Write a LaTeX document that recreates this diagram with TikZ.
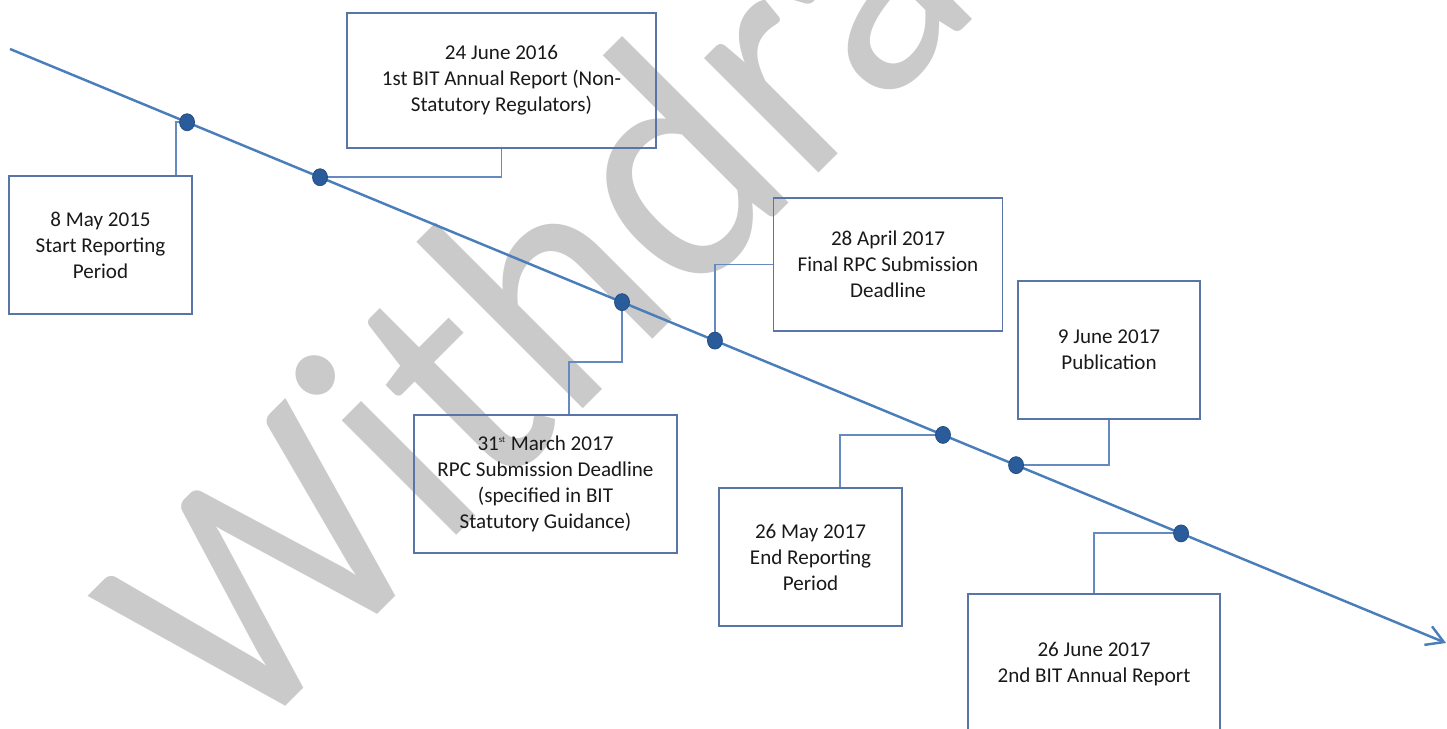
\documentclass[tikz,border=0pt]{standalone}
\usepackage{fontspec}
\setmainfont{Carlito}
\usetikzlibrary{arrows.meta,positioning,calc}

\definecolor{lineblue}{RGB}{74,126,187}
\definecolor{connblue}{RGB}{100,138,192}
\definecolor{boxblue}{RGB}{88,117,165}
\definecolor{dotblue}{RGB}{42,92,155}
\definecolor{wmgray}{RGB}{202,202,202}

\begin{document}
\begin{tikzpicture}[x=0.02cm, y=-0.02cm,
  event/.style={draw=boxblue, line width=1.1pt, align=center, inner sep=0pt,
    font=\fontsize{12}{14.8}\selectfont, text=black!90, minimum height=2.76cm},
  tline/.style={draw=lineblue, line width=1.4pt,
    -{Straight Barb[length=9.6pt,width=11.4pt]}},
  conn/.style={draw=connblue, line width=1.1pt},
  dot/.style={fill=dotblue, draw=dotblue!80!black, line width=0.4pt},
  watermark/.style={text=wmgray, rotate=45, xscale=0.94, anchor=base west,
    inner sep=0pt, font=\fontsize{193}{193}\selectfont}
]
  \useasboundingbox (0,0) rectangle (1447,729);
  \clip (0,0) rectangle (1447,729);

  \node[watermark] (wm) at (240,752) {Withdrawn};

  % timeline and event points
  \coordinate (ts) at (10,49);
  \coordinate (te) at (1446,643);
  \draw[tline] (ts) -- (te);
  \foreach \n/\t in {1/0.1233, 2/0.2159, 3/0.4262, 4/0.4909, 5/0.6497,
                     6/0.7006, 7/0.8155}
    \coordinate (e\n) at ($(ts)!\t!(te)$);

  \node[event, minimum width=3.66cm] (start) at (100.5,245)
    {8 May 2015\\Start Reporting\\Period};
  \node[event, minimum width=6.18cm, minimum height=2.70cm] (bit1) at (501.5,80.5)
    {24 June 2016\\1st BIT Annual Report (Non-\\Statutory Regulators)};
  \node[event, minimum width=5.26cm] (rpc) at (545.5,484)
    {31\textsuperscript{\tiny st} March 2017\\RPC Submission Deadline\\(specified in BIT\\Statutory Guidance)};
  \node[event, minimum width=4.58cm, minimum height=2.66cm] (final) at (888,264.5)
    {28 April 2017\\Final RPC Submission\\Deadline};
  \node[event, minimum width=3.64cm] (pub) at (1109,350)
    {9 June 2017\\Publication};
  \node[event, minimum width=3.66cm] (endrep) at (810.5,557)
    {26 May 2017\\End Reporting\\Period};
  \node[event, minimum width=5.04cm, minimum height=2.80cm] (bit2) at (1094,664)
    {26 June 2017\\2nd BIT Annual Report};

  % elbow connectors
  \draw[conn] ($(start.north)+(75.5,0)$) |- (e1);
  \draw[conn] (bit1.south) |- (e2);
  \draw[conn] ($(rpc.north)+(23.5,0)$) |- ($(e3)+(0,60)$) -- (e3);
  \draw[conn] (final.west) -| (e4);
  \draw[conn] ($(endrep.north)+(29.5,0)$) |- (e5);
  \draw[conn] (pub.south) |- (e6);
  \draw[conn] (bit2.north) |- (e7);

  \foreach \n in {1,...,7}
    \filldraw[dot] (e\n) ellipse [x radius=7.5, y radius=8.5];
\end{tikzpicture}
\end{document}
